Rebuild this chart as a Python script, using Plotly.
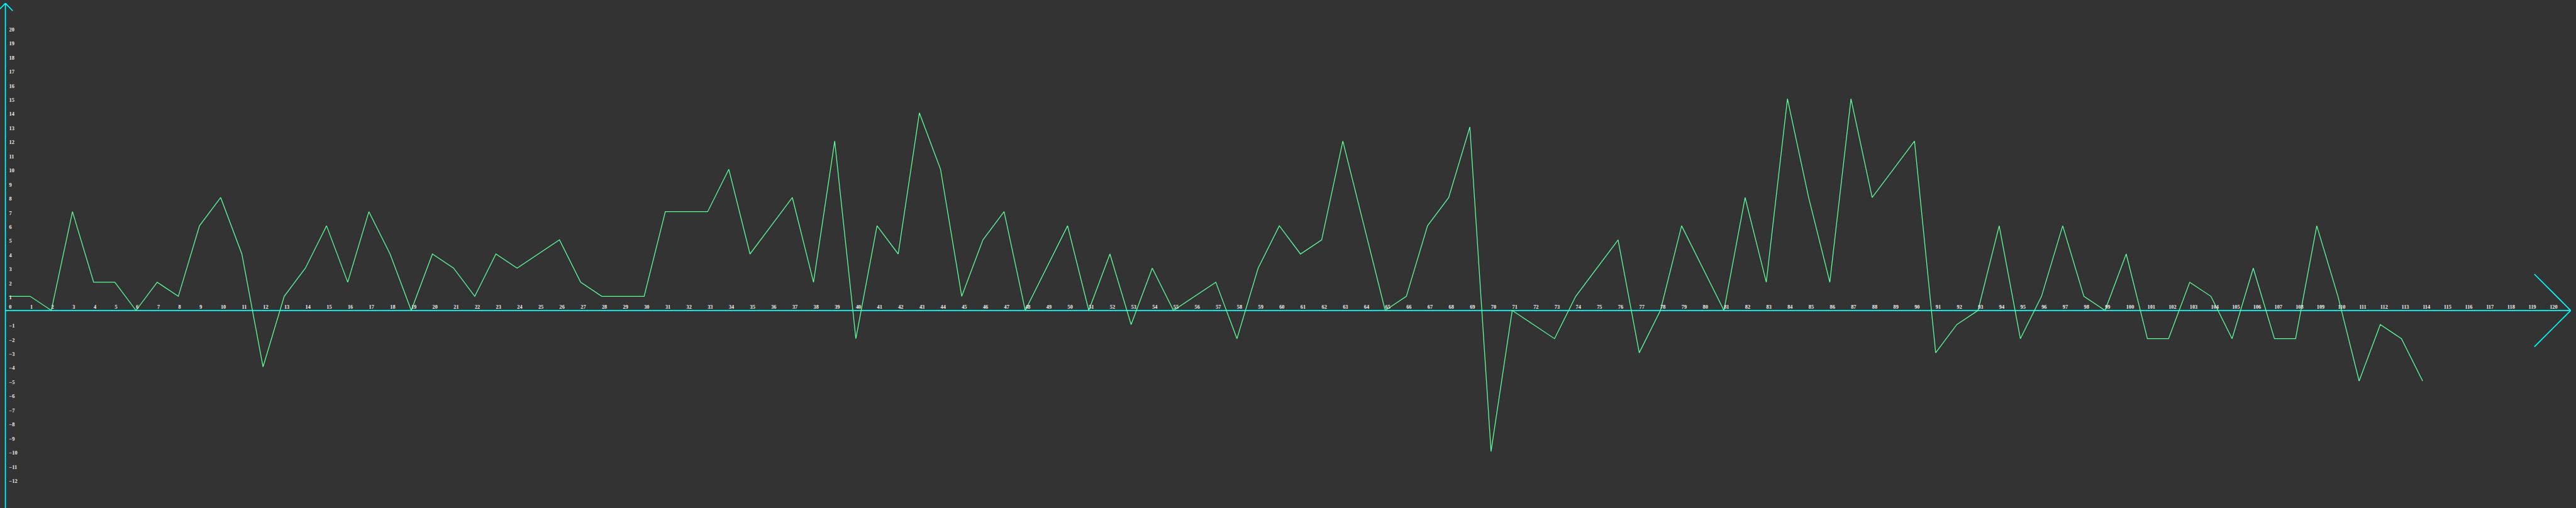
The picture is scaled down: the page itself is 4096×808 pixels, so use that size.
import plotly.graph_objects as go

# ---- data ----
x_vals = list(range(0, 115))
y_vals = [
    1, 1, 0, 7, 2, 2, 0, 2, 1, 6,        # 0-9
    8, 4, -4, 1, 3, 6, 2, 7, 4, 0,       # 10-19
    4, 3, 1, 4, 3, 4, 5, 2, 1, 1,        # 20-29
    1, 7, 7, 7, 10, 4, 6, 8, 2, 12,      # 30-39
    -2, 6, 4, 14, 10, 1, 5, 7, 0, 3,     # 40-49
    6, 0, 4, -1, 3, 0, 1, 2, -2, 3,      # 50-59
    6, 4, 5, 12, 6, 0, 1, 6, 8, 13,      # 60-69
    -10, 0, -1, -2, 1, 3, 5, -3, 0, 6,   # 70-79
    3, 0, 8, 2, 15, 8, 2, 15, 8, 10,     # 80-89
    12, -3, -1, 0, 6, -2, 1, 6, 1, 0,    # 90-99
    4, -2, -2, 2, 1, -2, 3, -2, -2, 6,   # 100-109
    1, -5, -1, -2, -5,                   # 110-114
]
x_ticks = list(range(0, 121))
y_ticks = [v for v in range(-12, 21) if v != 0]

# ---- geometry (in data units, derived from reference pixel layout) ----
W, H = 4096, 808
REF_W, REF_H = 7300, 1440
X0_PX, X_STEP = 25.4, 60.0      # reference px of x=0 and px per unit
Y0_PX, Y_STEP = 880.0, 40.0     # reference px of y=0 and px per unit

def xd(px):
    return (px - X0_PX) / X_STEP

def yd(px):
    return (Y0_PX - px) / Y_STEP

x_range = [xd(0), xd(REF_W)]
y_range = [yd(REF_H), yd(0)]

axis_x = xd(15.3)
axis_color = "#00ffff"
line_color = "#5cff9a"
bg = "#333333"
font = dict(family="Liberation Serif", size=8.3, color="#f0f0f0", weight="bold")
aw = 1.7

fig = go.Figure()
fig.add_trace(go.Scatter(x=x_vals, y=y_vals, mode="lines",
                         line=dict(color=line_color, width=1.3),
                         hoverinfo="skip", showlegend=False))

shapes = []
def seg(x0, y0, x1, y1):
    shapes.append(dict(type="line", xref="x", yref="y", x0=x0, y0=y0, x1=x1, y1=y1,
                       line=dict(color=axis_color, width=aw), layer="below"))

# y axis + arrow
seg(axis_x, y_range[0], axis_x, yd(9.2))
seg(axis_x, yd(9.2), xd(15.3 - 20.7), yd(30.8))
seg(axis_x, yd(9.2), xd(15.3 + 20.7), yd(30.8))
# x axis + arrow
seg(axis_x, 0, xd(7285), 0)
seg(xd(7285), 0, xd(7182), yd(777))
seg(xd(7285), 0, xd(7182), yd(983))

fig.update_layout(
    width=W, height=H, autosize=False,
    paper_bgcolor=bg, plot_bgcolor=bg,
    margin=dict(l=0, r=0, t=0, b=0, pad=0),
    showlegend=False,
    shapes=shapes,
    xaxis=dict(range=x_range, tickvals=x_ticks, showgrid=False, zeroline=False,
               showline=False, anchor="free", position=(0 - y_range[0]) / (y_range[1] - y_range[0]),
               side="top", ticklabelposition="outside right", ticks="",
               tickfont=font, ticklabelstandoff=1),
    yaxis=dict(range=y_range, tickvals=y_ticks, showgrid=False, zeroline=False,
               showline=False, anchor="free", position=15.3 / REF_W,
               side="right", ticklabelposition="outside", ticks="",
               tickfont=font, ticklabelstandoff=5, ticklabelshift=2),
)

fig.write_html("out.html", config=dict(displayModeBar=False, staticPlot=True),
               post_script="document.body.style.margin='0';document.body.style.overflow='hidden';")
